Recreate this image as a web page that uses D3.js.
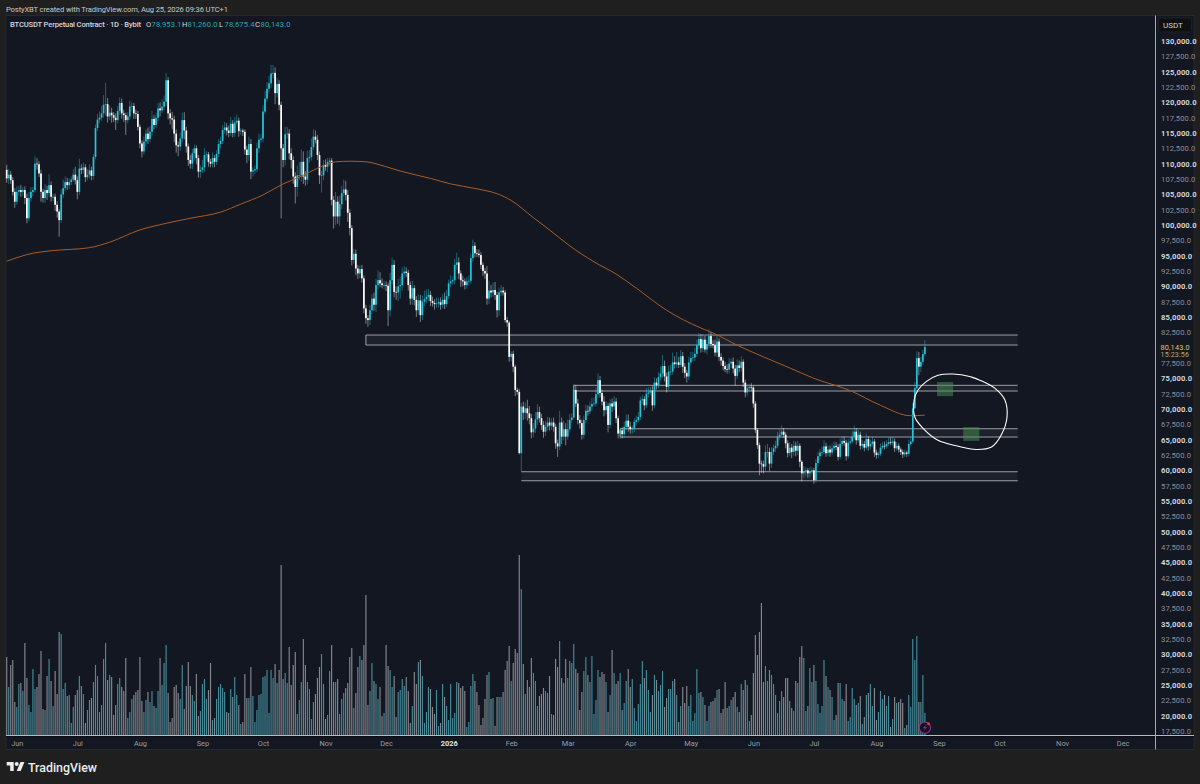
<!DOCTYPE html>
<html>
<head>
<meta charset="utf-8">
<title>BTCUSDT</title>
<script src="https://cdn.jsdelivr.net/npm/d3@7"></script>
<style>
  html, body { margin: 0; padding: 0; background: #1f1f1f; }
  svg { display: block; }
  text { font-family: Roboto, Inter, "Liberation Sans", sans-serif; }
</style>
</head>
<body>
<div id="chart"></div>
<script>
// daily closes in thousands of USDT, first candle 2025-05-27
var closes = [
  107.6,108.2,107.3,105.4,103.8,105.4,105.7,105.4,105.7,104.4,101.1,104.4,105.4,105.7,110,109.9,108.4,105.4,104.4,105.7,
  105.2,106.5,104.6,104.6,103.3,102.2,100.8,105,106,107,106.5,107,107.4,108.2,107.3,105.4,109.2,109,109.4,107.8,
  108.2,108.9,108,111.1,115.8,117.2,117.5,118.2,119.6,119.7,117.7,118.3,117.9,117.5,117.1,118.6,119.9,118.2,117.9,117.1,
  117.7,119.3,119.4,118.2,118.1,116,113.3,112,113.6,114.9,114,115.2,117.3,116.3,117.5,119,118.7,119.3,120.1,123.6,
  118.2,117.4,117.2,114.9,113,112.8,114.1,117.1,115.4,112.8,110.6,110,111.7,112.5,110.9,108.7,109,109.4,111.4,111.5,
  110.3,110,110.9,110.3,111.6,113.2,113.7,115.5,115.9,115.4,115,116.5,115,116.7,117,115.3,115.4,115.2,112.3,111.4,
  113.2,108.7,108.9,109.1,112.5,113.9,114.1,118.5,120.6,122.2,123.1,124.7,124.8,121.5,123,119.6,112.5,110.6,114.8,114.9,
  111.7,110.6,107.9,106.2,108.1,108.1,110.3,107.9,107.4,110.9,111.1,112.7,114.4,113.9,111.4,108.1,108.1,109.8,109.5,110.3,
  110.5,104.1,101.4,103.8,101.4,103.4,105.2,105.8,104.9,102,99.5,94.3,95.3,92.9,92.1,92.8,91.3,86.4,84.8,84.5,
  86.1,88,87,90.2,91,90.5,90.2,90.2,90.1,86.1,91,93.5,89.1,89,90,90.2,92.1,92.4,92.2,90.2,
  88,89.7,87.8,86.1,87.7,85.3,87.5,87.9,88.3,88.6,87.6,87.3,87.1,87.2,87.4,87,87.8,87.1,88.4,90.5,
  90.8,91,93.5,93.9,92.1,91,90.8,90.2,90.8,90.9,94.6,96.6,95.4,95.3,95.1,93.5,92.5,92.1,88,89.3,
  89,89.4,88.6,86.1,89,89.3,89,84.5,84.1,78.5,79,76.9,73.1,72.8,62.8,70.4,69.4,70.1,69.3,68.5,
  66.2,66.8,68.3,69.5,68.5,67.4,66.3,67.1,67.8,67.3,67.8,67.1,64.4,63.9,67.8,65.5,66.7,65.5,66.7,68.2,
  68.6,73.1,70.9,68.2,67.7,65.8,68.2,69.7,69.6,70.4,70.8,70.9,72.4,74.7,72.6,71.2,69.8,70.5,67.4,70.9,
  70.4,71.2,68.5,66,66.5,65.9,67.1,68.1,67.1,66.7,66.8,67.9,68.2,68.7,71.4,71.6,70.6,72.5,72.7,73,
  70.6,74.3,73.9,75.2,75.8,77,75.3,73.6,76.1,76.1,77.6,77.3,77.6,77.2,78.6,76.9,75.9,75.3,77.6,78.3,
  78.4,79,80.4,81.4,79.9,81.3,79.7,80.6,81.9,80.6,80.4,79.2,81,78.5,77.9,77,76.5,76.4,77.4,77.7,
  76.6,75.4,77.1,76.7,77.7,74.3,72.7,73.4,73.6,73.5,70.9,66.6,64.1,61.1,61,60.6,63,63,61.1,63,
  63.6,64,65.5,65.8,66.3,65.8,64.4,62.8,63.7,63,64,63.2,64,61.4,59.5,59.9,60,59.5,59.9,60,
  58.4,61.2,62.3,62.9,63,63.9,62.8,63.4,62.9,63.6,64,63.8,62.2,64.3,64.8,64.5,62.3,64.5,64.7,65.5,
  66.3,64.9,65.8,64,64.3,63.7,65.1,63.9,64.3,64.7,62.9,62.5,62.7,63.7,64,63.9,64.3,64.6,64.5,64.7,
  63.6,64,63.4,63,62.6,62.9,62.7,64.3,64.7,70.1,73.4,78.3,76.9,77.7,78.95,80.143
];
var firstOpen = 109;

// wick lengths above and below the body
var wickUp = [
  .8,.9,.6,.5,.6,.9,.7,.8,.5,.6,.7,1,.8,.5,1.2,.9,.5,.6,.5,1,
  .7,1.8,.6,.5,.5,.6,.4,.8,1.4,.9,.7,.6,.5,.9,1.3,.6,1.6,.7,.8,.5,
  .9,1,.6,.5,.6,.9,1,1.2,1.6,3.5,1,1.2,.8,.5,.7,.8,.9,.7,.6,.4,
  .7,1,.6,.5,.6,.5,.4,.5,.8,.7,1,.9,1.3,.6,.8,.9,1,1.2,1,1.2,
  .5,.7,1,.6,.7,.6,1,1.2,1.3,.6,.5,.8,.7,.6,.5,.5,.7,1.2,1.1,.5,
  .4,.5,.9,.5,.6,.8,.7,.8,.9,.7,.8,1.1,.6,.9,1,.5,.4,.3,.4,.6,
  1.2,.8,.5,.6,.9,1,.7,1,1.2,1.1,1.2,1.4,1.3,.9,1,.6,.5,.7,1.2,1.1,
  .7,.8,.6,.7,1.6,2.2,2,1.7,.9,1.2,1.1,1.4,1.2,1,.8,.6,.7,.8,.9,.6,
  .5,.4,.6,1.6,.9,1.4,1.2,1.6,1.4,.8,.6,.5,.8,.7,.6,.6,.7,.5,.6,.5,
  .9,.7,1,1,1.6,1.3,.8,.7,.6,.5,1.2,1.2,.8,.9,1.2,1.3,1,.9,.7,.5,
  .6,1.2,.5,.6,1,.9,1,1.4,1.2,1,.6,.7,.6,1,.7,.8,.9,1.2,1,.6,
  1,.6,1,1.6,.8,.5,.7,.5,.7,.9,.7,1,.6,.6,.7,.5,.4,.5,1.2,1.6,
  .9,1.2,1.3,.5,.8,.9,.6,.4,.5,.3,.4,.5,.3,.4,.5,.6,.8,1,1.4,1.2,
  .7,.9,1.2,1.3,.9,.7,.6,1,.9,.8,.7,.8,.5,.6,1.9,.8,1.4,1,1.6,1,
  .7,1,.8,.7,.8,.6,.7,1,.9,.8,1,1,1.1,1.1,.7,.6,.9,.8,.5,.7,
  .8,.9,.6,.4,.5,.5,.8,1,1,.8,.5,.6,.7,.8,.6,.7,.5,.9,.8,.6,
  .7,.9,.7,.8,1.1,1.8,.9,.6,1,1.1,1.6,1,1.7,.9,1,.7,.6,.5,.9,1,
  .9,1,.9,1,.8,.9,.6,.7,1.1,.7,.6,.9,1,.5,.6,.5,.7,.8,.9,.5,
  .7,.6,1,.8,.9,.4,.5,.6,.5,.6,.3,.4,.3,.4,.5,.6,1.1,1.3,.7,.8,
  .6,.8,.7,.9,1,.6,.4,.5,.9,.6,.8,.7,.8,.4,.3,.8,.5,.4,.6,.5,
  .4,.7,.8,.6,.9,1,.6,.7,.6,.8,.7,.6,.5,.9,.8,.7,.5,.6,.7,.9,
  1,.6,.8,.5,.6,.5,.9,.5,.7,.8,.4,.5,.4,.7,.6,.7,.6,.8,.8,.8,
  .5,.6,.4,.3,.4,.5,.3,.7,.6,.9,1,1.1,1,.8,.7,1.117
];
var wickDown = [
  .7,.9,.6,.6,1,.5,.6,.8,.7,1,.8,.5,.6,.7,.4,.9,.6,1.6,.7,.8,
  1.1,.6,.8,.7,1,1,2.7,.5,.6,.5,.8,.6,.5,.4,.7,1.2,.5,.7,.6,.8,
  .5,.6,.7,.6,.4,.5,.6,.5,.7,1.8,1,.6,1.2,.7,1.6,.5,.6,.9,1.1,2.4,
  .5,.6,.7,.9,.8,.6,.8,1,.5,.7,.8,.5,.6,.7,.5,.6,1,.5,.6,.7,
  1,1,1.6,1.4,1.2,1.6,.7,.6,1.4,1,1,.8,.9,1.2,1,1,1,.5,.7,.6,
  .8,.6,.6,.9,.5,.6,.7,.5,.6,.8,.7,.5,.7,.6,.5,.9,.6,.7,.8,1.3,
  .9,1.2,.8,.6,.5,.7,.5,.6,.4,.5,.6,.7,.8,1.8,.7,.9,11.4,1.2,.9,.7,
  1,1.4,1.2,2.7,1.6,.8,1,1.2,1,.8,.7,.6,.5,.6,.8,1.4,2.8,.8,.7,.9,
  .6,.9,2,1.4,1.2,1.6,.8,.6,.9,1.5,1.2,.9,.6,1.1,.9,.8,.7,.8,.9,1.1,
  .8,.6,1,1.2,.7,.6,.5,.7,.9,2.6,1,.7,.9,1.2,1.4,2,.9,.8,.7,.9,
  1,1,.9,1.1,.7,1.1,.8,.7,.6,.7,.8,.6,.9,.6,.7,.8,.6,.8,.5,.5,
  .6,.5,.7,.8,.9,1.1,.8,.7,.6,.7,.5,.6,.7,.5,.4,.7,.8,.9,1,.9,
  .8,.7,.8,1.2,.9,.6,.5,.4,.7,.8,.7,.9,1,.5,.2,3,1.2,1,1.2,1,
  1,.8,.7,.9,.7,.8,1,.7,.6,.8,.7,.8,.9,1.7,.6,1.2,.6,1.4,.5,.4,
  .5,.3,.6,.7,.9,.8,.6,.5,.7,.5,.6,.4,.5,.6,.7,.6,1,.7,1.2,.5,
  .9,.6,.8,.8,.9,.7,.6,.5,.8,.7,.7,.6,.5,.4,.5,.6,.8,.5,.6,.4,
  .9,.5,.7,.5,.6,.7,.8,.9,.5,.6,.5,.7,.6,.5,.4,1,.9,1,.6,.5,
  .5,.6,.5,.6,.7,.6,.5,.8,.7,.6,.5,.6,.8,.7,.8,.7,.5,.6,.6,.7,
  .8,1.6,.5,.7,.6,.7,.8,.6,.5,.6,.7,.5,.6,1.9,1.4,1.1,.8,.9,1.2,.7,
  .5,.6,.4,.5,.4,.5,.8,.7,.5,1,.6,.9,.7,.9,1.3,.7,.8,.7,.6,.6,
  .6,.4,.6,.5,.5,.4,.6,.5,.7,.5,.4,.5,.6,.4,.3,.5,.7,.4,.3,.3,
  .5,.7,.4,.6,.5,.6,.4,.7,.5,.4,.7,.6,.5,.4,.3,.5,.4,.3,.4,.5,
  .6,.4,.5,.5,.6,.4,.5,.4,.3,.3,.2,.2,1.4,.9,.5,.275
];

// volume, relative units (no scale shown in the chart)
var volumes = [
  78,48,70,75,33,28,51,52,44,92,57,30,23,66,46,48,61,84,26,25,
  59,76,54,29,64,41,103,101,46,52,39,40,12,28,40,45,59,49,41,12,
  25,35,37,53,70,59,23,30,76,92,55,60,58,20,30,51,57,48,44,77,
  17,23,36,40,43,45,78,34,23,35,43,33,44,29,27,44,77,50,72,90,
  42,13,17,48,50,42,36,70,26,49,73,49,40,34,61,19,24,51,56,36,
  45,72,15,17,36,48,51,47,43,23,22,46,38,58,40,30,11,13,61,37,
  37,68,39,13,25,40,41,58,59,65,22,65,57,71,52,65,170,56,62,52,
  88,50,70,83,21,35,53,96,70,53,46,16,33,41,57,68,81,51,16,20,
  64,90,53,53,56,21,36,42,47,52,78,87,27,42,68,79,75,90,140,30,
  44,72,54,51,36,48,19,22,90,69,65,48,59,18,43,45,56,49,58,44,
  12,29,63,51,73,75,59,12,23,48,46,28,21,45,9,12,51,38,29,15,
  51,17,22,53,52,47,49,44,8,13,49,61,54,43,30,10,17,36,60,63,
  36,37,9,38,38,38,43,65,74,89,54,72,86,82,180,146,71,41,55,48,
  77,62,54,29,39,41,47,44,42,59,21,20,76,68,94,57,52,76,57,74,
  72,91,66,62,25,43,64,78,60,53,79,21,35,65,58,63,61,53,23,40,
  85,62,51,54,62,25,32,54,66,48,56,27,14,31,51,74,57,65,45,23,
  40,60,55,44,50,64,28,37,46,46,54,56,40,13,29,48,32,49,29,40,
  14,22,66,42,43,38,30,14,29,33,34,37,45,46,22,26,53,27,29,35,
  38,43,28,23,51,45,55,50,14,20,62,100,80,103,132,53,69,54,65,60,
  51,40,22,34,44,38,57,57,34,27,24,54,52,78,89,77,24,29,67,53,
  70,54,31,22,29,75,59,48,45,38,15,20,52,52,36,34,51,14,18,47,
  36,30,32,39,11,18,40,42,51,29,47,15,23,44,36,40,29,39,8,16,
  38,32,33,36,32,7,10,40,28,96,75,99,33,33,60,22
];

// moving average read at these candle numbers
var maDays = [0,13,22,41,51,66,78,91,106,116,127,137,145,150,157,163,170,178,188,195,210,220,233,243,250,261,269,279,291,302,312,327,344,350,362,375,388,400,418,433,448,455];
var maValues = [94.1,95.4,95.8,96.3,97.2,99.2,100.2,101.1,102.1,103.4,104.9,106.7,107.8,108.6,109.7,110.3,110.4,110.3,109.5,108.8,107.6,106.7,105.9,105.1,104,101.2,99.2,96.6,94,92,89.7,86.1,83.2,82.4,80.4,78.5,76.7,75,73,70.6,68.9,69];

// drawn zones: start candle, top, bottom
var zoneStarts = [178, 281, 304, 255];
var zoneTops = [82.06, 73.86, 66.78, 59.77];
var zoneBottoms = [80.43, 72.93, 65.43, 58.3];
var zoneEnd = 501;

// green boxes
var boxStarts = [461, 474];
var boxEnds = [469, 482];
var boxTops = [74.4, 67.06];
var boxBottoms = [72.1, 64.8];

// hand drawn circle as candle number / price
var circleDays = [482.2,477.2,469,461.5,455.8,451.6,449.7,450,454.1,461.5,470.6,480.5,488,492.9,495.7,494.6,489.6,482.2,478.1];
var circlePrices = [74.7,75.3,75.7,75.5,74.5,73.1,71.5,68.7,66.85,64.9,64,63.4,63.8,65.8,68.7,71.5,73.4,74.7,75.2];

var priceTicks = [130,127.5,125,122.5,120,117.5,115,112.5,110,107.5,105,102.5,100,97.5,95,92.5,90,87.5,85,82.5,77.5,75,72.5,70,67.5,65,62.5,60,57.5,55,52.5,50,47.5,45,42.5,40,37.5,35,32.5,30,27.5,25,22.5,20,17.5];
var monthTicks = ["2025-06-01","2025-07-01","2025-08-01","2025-09-01","2025-10-01","2025-11-01","2025-12-01","2026-01-01","2026-02-01","2026-03-01","2026-04-01","2026-05-01","2026-06-01","2026-07-01","2026-08-01","2026-09-01","2026-10-01","2026-11-01","2026-12-01"];
var monthLabels = ["Jun","Jul","Aug","Sep","Oct","Nov","Dec","2026","Feb","Mar","Apr","May","Jun","Jul","Aug","Sep","Oct","Nov","Dec"];

var legendLabels = ["O", "H", "L", "C"];
var legendValues = ["78,953.1", "81,260.0", "78,675.4", "80,143.0"];

var width = 1200, height = 784;
var bg = "#1f1f1f", panel = "#131722";
var upColor = "#26c3d9", downColor = "#ffffff";
var startDate = new Date(Date.UTC(2025, 4, 27));

var svg = d3.select("#chart").append("svg")
    .attr("width", width)
    .attr("height", height);

svg.append("rect").attr("width", width).attr("height", height).attr("fill", bg);
svg.append("rect")
    .attr("x", 6).attr("y", 15.5)
    .attr("width", 1188).attr("height", 734)
    .attr("fill", panel)
    .attr("stroke", "#2b2d33").attr("stroke-width", 0.8);

// scales
var x = d3.scaleUtc()
    .domain([startDate, d3.utcDay.offset(startDate, 455)])
    .range([6.7, 6.7 + 2.018 * 455]);
var y = d3.scaleLinear().domain([17.5, 130]).range([731, 41]);
var yVol = d3.scaleLinear().domain([0, 180]).range([735, 555]);

function dayX(n) {
    return x(startDate) + (x(d3.utcDay.offset(startDate, 1)) - x(startDate)) * n;
}

var candles = closes.map(function (c, i) {
    var o = i === 0 ? firstOpen : closes[i - 1];
    return {
        date: d3.utcDay.offset(startDate, i),
        open: o,
        close: c,
        high: Math.max(o, c) + wickUp[i],
        low: Math.min(o, c) - wickDown[i],
        vol: volumes[i],
        up: c >= o
    };
});

// volume
svg.append("g").selectAll("rect")
    .data(candles)
    .enter().append("rect")
    .attr("x", function (d) { return x(d.date) - 0.58; })
    .attr("y", function (d) { return yVol(d.vol); })
    .attr("width", 1.15)
    .attr("height", function (d) { return 735 - yVol(d.vol); })
    .attr("fill", function (d) { return d.up ? "#448c9a" : "#85878e"; });

// zones
var zones = zoneStarts.map(function (s, i) {
    return { start: s, top: zoneTops[i], bottom: zoneBottoms[i], edge: i < 3 };
});
var zoneG = svg.append("g");
zoneG.selectAll("rect")
    .data(zones)
    .enter().append("rect")
    .attr("x", function (d) { return dayX(d.start); })
    .attr("y", function (d) { return y(d.top); })
    .attr("width", function (d) { return dayX(zoneEnd) - dayX(d.start); })
    .attr("height", function (d) { return y(d.bottom) - y(d.top); })
    .attr("fill", "#ffffff").attr("fill-opacity", 0.045);
zones.forEach(function (d) {
    var path = "M" + dayX(zoneEnd) + "," + y(d.top) + "H" + dayX(d.start)
        + (d.edge ? "V" + y(d.bottom) : "M" + dayX(d.start) + "," + y(d.bottom))
        + "H" + dayX(zoneEnd);
    zoneG.append("path")
        .attr("d", path)
        .attr("fill", "none")
        .attr("stroke", "#b4b6bc")
        .attr("stroke-width", 0.85);
});

// candles
var candleG = svg.append("g");
candleG.selectAll("line")
    .data(candles)
    .enter().append("line")
    .attr("x1", function (d) { return x(d.date); })
    .attr("x2", function (d) { return x(d.date); })
    .attr("y1", function (d) { return y(d.high); })
    .attr("y2", function (d) { return y(d.low); })
    .attr("stroke", function (d) { return d.up ? upColor : downColor; })
    .attr("stroke-opacity", 0.55)
    .attr("stroke-width", 0.8);
candleG.selectAll("rect")
    .data(candles)
    .enter().append("rect")
    .attr("x", function (d) { return x(d.date) - 0.85; })
    .attr("y", function (d) { return y(Math.max(d.open, d.close)); })
    .attr("width", 1.7)
    .attr("height", function (d) { return Math.max(0.7, Math.abs(y(d.open) - y(d.close))); })
    .attr("fill", function (d) { return d.up ? upColor : downColor; });

// moving average
var maLine = d3.line()
    .x(function (d) { return dayX(d[0]); })
    .y(function (d) { return y(d[1]); })
    .curve(d3.curveMonotoneX);
svg.append("path")
    .datum(d3.zip(maDays, maValues))
    .attr("d", maLine)
    .attr("fill", "none")
    .attr("stroke", "#a85c26")
    .attr("stroke-width", 1);

// green boxes
svg.append("g").selectAll("rect")
    .data(boxStarts)
    .enter().append("rect")
    .attr("x", function (d) { return dayX(d); })
    .attr("y", function (d, i) { return y(boxTops[i]); })
    .attr("width", function (d, i) { return dayX(boxEnds[i]) - dayX(d); })
    .attr("height", function (d, i) { return y(boxBottoms[i]) - y(boxTops[i]); })
    .attr("fill", "#4c8f56")
    .attr("fill-opacity", 0.5);

// hand drawn circle
var circleLine = d3.line()
    .x(function (d) { return dayX(d[0]); })
    .y(function (d) { return y(d[1]); })
    .curve(d3.curveCatmullRom.alpha(0.5));
svg.append("path")
    .datum(d3.zip(circleDays, circlePrices))
    .attr("d", circleLine)
    .attr("fill", "none")
    .attr("stroke", "#ffffff")
    .attr("stroke-width", 1.1);

// pane separators
svg.append("line").attr("x1", 6).attr("x2", 1194).attr("y1", 735.5).attr("y2", 735.5)
    .attr("stroke", "#b8bac0").attr("stroke-width", 1);
svg.append("rect").attr("x", 6).attr("y", 736).attr("width", 1188).attr("height", 1.2).attr("fill", "#0b0e14");
svg.append("line").attr("x1", 1155.5).attr("x2", 1155.5).attr("y1", 15.5).attr("y2", 749.5)
    .attr("stroke", "#a6a8ae").attr("stroke-width", 1);

// price axis
var yAxis = svg.append("g")
    .attr("transform", "translate(1155,0)")
    .call(d3.axisRight(y)
        .tickValues(priceTicks)
        .tickSize(0)
        .tickPadding(6)
        .tickFormat(function (d) { return d3.format(",.1f")(d * 1000); }));
yAxis.select(".domain").remove();
yAxis.selectAll("text")
    .style("font-size", "7.6px")
    .style("font-weight", function (d) { return d % 5 === 0 ? 700 : 400; })
    .style("letter-spacing", "0.12px")
    .attr("fill", function (d) { return d % 5 === 0 ? "#d4d6dc" : "#8d9097"; });

// time axis
var xAxis = svg.append("g")
    .attr("transform", "translate(0,735)")
    .call(d3.axisBottom(x)
        .tickValues(monthTicks.map(function (s) { return new Date(s + "T00:00:00Z"); }))
        .tickSize(0)
        .tickPadding(6)
        .tickFormat(function (d, i) { return monthLabels[i]; }));
xAxis.select(".domain").remove();
xAxis.selectAll("text")
    .style("font-size", "7.4px")
    .style("font-weight", function (d, i) { return monthLabels[i] === "2026" ? 700 : 400; })
    .attr("fill", function (d, i) { return monthLabels[i] === "2026" ? "#e0e2e6" : "#999ca3"; });

// USDT box
svg.append("rect").attr("x", 1158.5).attr("y", 18)
    .attr("width", 33).attr("height", 14).attr("rx", 1.5)
    .attr("fill", "#101010").attr("stroke", "#24262c").attr("stroke-width", 0.8);
svg.append("text").attr("x", 1163).attr("y", 27.8)
    .attr("font-size", 8).attr("fill", "#d0d0d0").text("USDT");

// last price tag
svg.append("rect").attr("x", 1158).attr("y", 343.5)
    .attr("width", 30).attr("height", 14.5).attr("rx", 1.5)
    .attr("fill", "#1a1916");
svg.append("text").attr("x", 1160.5).attr("y", 349.8)
    .attr("font-size", 7.4).attr("letter-spacing", 0.12).attr("fill", "#c6c2ae")
    .text(d3.format(",.1f")(closes[closes.length - 1] * 1000));
svg.append("text").attr("x", 1160.5).attr("y", 356.7)
    .attr("font-size", 7.2).attr("letter-spacing", 0.12).attr("fill", "#a8a594").text("15:23:56");

// header and legend
svg.append("text").attr("x", 6).attr("y", 11.5)
    .attr("font-size", 7.6).attr("fill", "#c9c9c9")
    .attr("textLength", 222).attr("lengthAdjust", "spacing")
    .text("PostyXBT created with TradingView.com, Aug 25, 2026 09:36 UTC+1");
svg.append("text").attr("x", 10).attr("y", 27)
    .attr("font-size", 7.6).attr("font-weight", 500).attr("fill", "#d6d8de")
    .attr("textLength", 131).attr("lengthAdjust", "spacing")
    .text("BTCUSDT Perpetual Contract \u00b7 1D \u00b7 Bybit");
var legendX = [146, 182, 219, 255];
legendLabels.forEach(function (l, i) {
    svg.append("text").attr("x", legendX[i]).attr("y", 27)
        .attr("font-size", 7.6).attr("fill", "#d6d8de").text(l);
    svg.append("text").attr("x", legendX[i] + 5.6).attr("y", 27)
        .attr("font-size", 7.6).attr("letter-spacing", 0.12).attr("fill", "#22a7bb").text(legendValues[i]);
});

// lightning marker under the last bar
var marker = svg.append("g").attr("transform", "translate(" + x(candles[455].date) + ",727.7)");
marker.append("circle").attr("r", 5.7)
    .attr("fill", "#15131f").attr("stroke", "#8c2f9c").attr("stroke-width", 1.1);
marker.append("path").attr("d", "M1,-3L-2,0.6H0L-1,3L2,-0.6H0Z").attr("fill", "#8c2f9c");
marker.append("circle").attr("cx", 3.7).attr("cy", -3.9).attr("r", 1.5).attr("fill", "#e9333f");

// TradingView logo
var logo = svg.append("g").attr("transform", "translate(6.7,760) scale(0.5)").attr("fill", "#ececec");
logo.append("path").attr("d", "M14 22H7V11H0V4h14v18zM28 22h-8l7.5-18h8L28 22z");
logo.append("circle").attr("cx", 20).attr("cy", 8).attr("r", 4);
svg.append("text").attr("x", 28).attr("y", 771.5)
    .attr("font-size", 12.8).attr("font-weight", 500).attr("fill", "#ececec")
    .attr("textLength", 69).attr("lengthAdjust", "spacingAndGlyphs")
    .text("TradingView");
</script>
</body>
</html>
